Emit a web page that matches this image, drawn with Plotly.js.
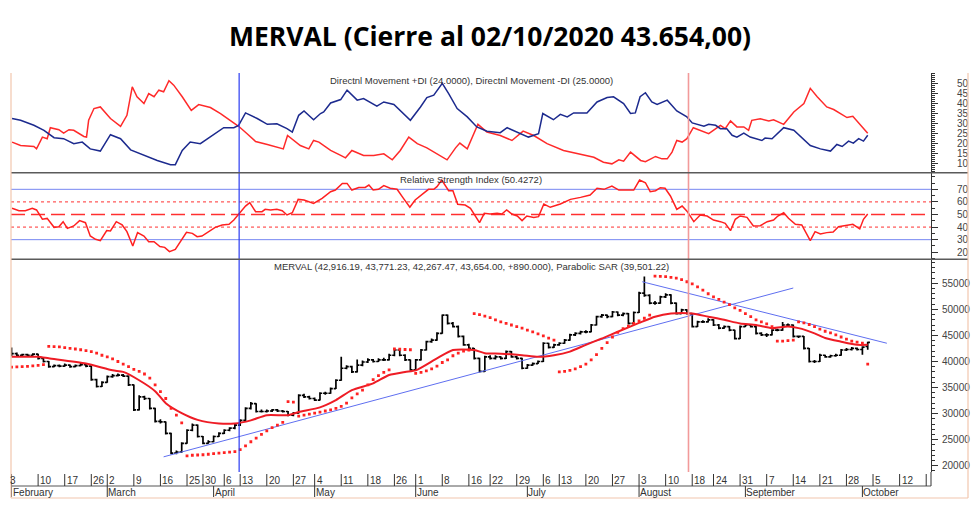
<!DOCTYPE html>
<html><head><meta charset="utf-8">
<script src="https://cdn.plot.ly/plotly-3.0.1.min.js"></script>
<style>html,body{margin:0;padding:0;background:#fff}#chart{width:980px;height:507px}</style>
</head><body><div id="chart"></div>
<script>
// ---------- DATA (trading-day index 0 = 3 Feb 2020 ... 161 = 2 Oct 2020) ----------
const barOpen = [41200,41500,41200,41300,41200,41400,40600,40000,39000,39200,39100,39300,39000,39200,39400,39100,36500,35200,36000,37100,
37300,37400,37200,35500,30700,33200,32900,31000,28500,28400,26200,22400,22600,24300,26800,27800,25600,24300,24600,25600,
26200,26800,27200,27800,28700,31000,31900,30400,30400,30500,30700,30500,30400,29700,30100,33500,33200,32900,32600,33900,
33900,34800,36400,38700,39000,38000,39300,39900,40300,40000,40300,40300,41200,42200,41200,40300,38400,40300,42200,43800,
44100,45400,48900,47300,46700,44800,43200,42500,40600,38100,40900,40600,40900,40600,41900,40900,40600,38700,39300,39600,
40000,43500,42700,43200,43500,44100,45100,45400,45700,45700,47000,48600,48900,48600,49500,48900,49200,47300,49400,53100,
52700,51200,51200,52400,52800,51200,49200,49900,49200,46700,47600,47600,48000,47000,46400,46700,46000,44400,46700,47000,
46700,45400,45100,45100,46000,46000,47000,47000,44800,44800,42500,40000,40000,41200,40900,41100,41200,42200,42300,42500,
42300,42916.19];
const barHigh = [42700,41700,41500,41500,41600,41500,40800,40100,39400,39400,39600,39400,39400,39700,39500,39200,36700,36200,37300,37600,
37700,37600,37300,35600,33500,33400,33000,31100,28900,28500,26300,22900,24500,27000,28100,27900,25700,24900,25800,26400,
27000,27400,28000,28900,31200,32200,32000,30800,30800,30900,30900,30700,30500,30300,33700,33800,33400,33100,34100,34200,
35000,36600,40900,39300,39200,40400,40200,40600,40500,40600,40700,41500,42500,42300,41400,40400,40500,42400,44000,44400,
45600,49000,49000,47600,46900,45000,43400,42600,40700,41100,41200,41200,41000,42100,42000,41100,40700,39500,39800,40200,
43700,43600,43400,43700,44300,45300,45600,45900,46000,47200,48800,49100,49000,49700,49600,49400,49300,49600,53400,56300,
52900,51600,52600,53100,52900,51300,50100,50000,49300,47800,47900,48300,48100,47200,46900,46800,46100,46900,47300,47100,
46800,45600,45400,46200,46300,47600,47300,47100,45000,44900,42600,40300,41500,41300,41300,41500,42400,42600,42800,42700,
42900,43771.23];
const barLow = [41000,41000,41000,41000,41100,40400,39800,38800,38900,38900,39000,38800,38900,39100,38900,36300,35000,35100,35900,36900,
37100,37000,35300,30500,30600,32600,30800,28300,28100,26000,22200,22200,22500,24200,26600,25400,24100,24200,24500,25500,
26100,26600,27000,27600,28600,30800,30200,30200,30200,30300,30300,30200,29500,29500,30000,33000,32700,32400,32500,33600,
33800,34700,36300,38500,37800,37900,39100,39700,39800,39900,40100,40200,41000,41000,40100,38200,38300,40200,42100,43600,
44000,45300,47100,46500,44600,43000,42300,40400,37900,38000,40400,40400,40400,40500,40700,40400,38500,38600,39200,39500,
39900,42500,42600,43000,43400,44000,44900,45200,45400,45600,46900,48400,48300,48500,48700,48700,47100,47200,49300,52400,
51000,50900,51100,52200,51000,49000,49100,49000,46500,46600,47400,47500,46800,46200,46300,45800,44200,44300,46600,46500,
45200,44900,44700,45000,45800,45900,46700,44600,44500,42300,39800,39700,39900,40700,40700,40900,41100,42000,42100,42100,
41300,42267.47];
const barClose = [41500,41200,41300,41200,41400,40600,40000,39000,39200,39100,39300,39000,39200,39400,39100,36500,35200,36000,37100,37300,
37400,37200,35500,30700,33200,32900,31000,28500,28400,26200,22400,22600,24300,26800,27800,25600,24300,24600,25600,26200,
26800,27200,27800,28700,31000,31900,30400,30400,30500,30700,30500,30400,29700,30100,33500,33200,32900,32600,33900,33900,
34800,36400,38700,39000,38000,39300,39900,40300,40000,40300,40300,41200,42200,41200,40300,38400,40300,42200,43800,44100,
45400,48900,47300,46700,44800,43200,42500,40600,38100,40900,40600,40900,40600,41900,40900,40600,38700,39300,39600,40000,
43500,42700,43200,43500,44100,45100,45400,45700,45700,47000,48600,48900,48600,49500,48900,49200,47300,49400,53100,52700,
51200,51200,52400,52800,51200,49200,49900,49200,46700,47600,47600,48000,47000,46400,46700,46000,44400,46700,47000,46700,
45400,45100,45100,46000,46000,47000,47000,44800,44800,42500,40000,40000,41200,40900,41100,41200,42200,42300,42500,42300,
42764,43654];
const parabolicSar = [38900,38950,39000,39050,39150,39250,39400,42900,42850,42800,42650,42500,42400,42250,42100,41900,41600,41200,40900,40500,
40000,39500,39000,38500,38100,37600,36800,35500,34200,32900,31000,29700,28200,21900,22000,22050,22100,22200,22300,22400,
22500,22600,22700,23100,23800,24600,25300,26000,26700,27300,27800,28300,32300,32200,29500,29700,29900,30100,30300,30500,
30700,31000,31400,32000,33000,33800,34500,35500,36500,37300,37900,38400,42400,42350,42300,42250,37700,37900,38200,38600,
39100,39800,40300,41100,41600,42000,42200,49200,49000,48700,48400,48000,47600,47300,47000,46700,46400,46000,45700,45300,
44900,44500,44100,38000,38100,38300,38600,39000,39500,40300,41300,42500,43600,44700,45600,46300,46800,47300,47800,48300,
48900,56400,56350,56300,56150,56000,55700,55300,54900,54300,53700,53000,52400,51900,51400,50900,50300,49800,49200,48600,
48000,47600,47200,46700,43900,43900,44000,44100,47600,47400,47100,46700,46200,45800,45500,45100,44700,44300,43900,43700,
43500,39501.22];
const maDay = [0,5,7,14,19,21,24,27,29,32,35,39,42,45,48,52,54,58,61,64,68,71,74,76,80,83,87,89,92,96,99,102,105,108,111,114,118,121,124,128,131,134,137,140,143,146,148,151,153,156,159,161];
const maValue = [40900,40900,40600,39600,38300,38000,36400,34300,32000,30100,28800,28100,28100,28700,29700,29700,30300,31200,32600,34500,35800,37400,38000,38300,40600,42200,42200,41600,41500,41200,40900,41200,41900,43200,44400,45700,47400,48600,49200,49200,48600,48000,47300,47000,46400,46700,46400,45400,44500,43800,43200,43200];

const diPlusDay = [0.1,1.7,4.2,6.1,8.0,9.8,11.7,13.3,14.8,16.7,18.6,20.5,22.4,24.9,27.4,29.9,30.8,32.1,33.6,35.5,37.4,39.9,41.8,42.7,44.0,46.2,48.1,49.9,51.8,52.8,54.0,55.0,56.8,58.1,58.7,60.0,61.9,63.1,65.0,66.2,68.7,70.0,71.9,75.0,76.9,78.1,79.4,81.0,82.2,83.8,85.7,87.5,89.4,91.9,93.2,94.4,95.7,97.2,99.1,99.9,101.9,103.2,104.5,105.7,108.2,110.1,112.0,113.2,115.1,116.4,117.3,118.2,119.2,120.4,121.4,123.3,125.1,127.0,128.0,130.2,131.1,132.4,133.3,134.5,135.5,136.4,137.7,138.9,141.1,141.7,143.0,145.2,147.1,150.2,152.1,154.0,155.2,156.2,157.4,158.3,159.3,160.2,161.0];
const diPlusValue = [32.4,31.5,29.0,26.5,22.8,22.3,19.8,20.6,17.2,16.1,24.3,22.3,16.7,13.9,11.4,9.3,9.3,16.4,20.6,19.8,23.1,27.8,27.8,29.0,35.2,32.4,29.5,29.8,27.3,25.6,34.0,36.2,31.8,34.9,35.7,40.2,41.9,46.6,41.6,42.4,38.6,40.7,39.4,31.5,38.2,42.9,44.1,50.0,44.9,37.4,33.2,28.2,26.0,25.3,27.8,26.5,25.1,23.1,24.8,34.9,31.8,34.5,33.2,35.2,35.2,40.7,42.9,43.3,39.9,34.9,35.2,43.3,45.3,40.7,39.4,41.6,36.2,33.2,30.2,28.5,29.5,29.0,27.3,27.3,24.0,23.1,25.1,23.1,21.4,22.6,22.3,27.8,26.5,18.9,17.2,16.1,19.4,18.4,21.1,20.1,22.3,21.1,24.0];
const diMinusDay = [0.1,1.7,4.2,4.7,5.8,6.7,7.3,8.9,9.8,10.8,11.7,13.6,14.1,14.5,15.5,16.7,18.6,20.5,21.7,22.7,23.6,24.9,25.8,26.8,27.7,28.6,29.6,30.5,32.1,33.8,35.2,37.4,39.3,41.2,42.7,44.3,45.9,48.1,50.6,51.1,51.9,53.1,54.3,55.9,56.8,57.8,60.0,61.9,62.8,64.0,66.2,68.1,70.0,71.6,73.1,74.7,76.3,78.1,80.0,81.9,83.5,84.3,85.7,87.7,89.4,91.9,94.1,96.2,98.2,100.7,103.8,107.0,109.5,111.3,112.9,114.2,115.1,116.4,117.6,118.3,119.2,120.1,121.1,122.3,123.3,124.2,125.1,126.1,127.0,128.2,129.5,131.1,133.3,134.2,135.2,136.4,137.7,138.6,139.2,140.8,142.4,143.3,145.2,147.1,149.0,150.2,151.5,153.3,154.6,157.1,158.2,159.6,161.0];
const diMinusValue = [20.6,18.9,18.4,17.2,23.1,22.3,27.8,26.8,25.1,26.8,26.5,23.4,23.1,31.5,37.4,38.2,32.4,28.5,34.0,48.3,43.3,39.9,44.9,43.3,46.6,45.8,51.3,49.1,43.3,36.5,39.4,37.9,34.9,31.5,28.5,24.8,20.9,19.4,17.7,17.2,23.9,21.4,18.9,17.2,21.4,20.6,16.4,13.9,12.7,16.4,13.9,13.9,14.7,11.7,16.4,23.1,19.8,17.7,14.7,11.7,17.7,20.1,17.2,29.5,25.6,23.9,21.4,26.1,23.9,19.8,16.4,14.4,13.0,10.5,9.7,11.7,11.0,15.6,13.0,11.4,10.8,12.2,13.4,12.2,12.2,15.6,21.4,20.6,22.3,27.8,26.5,24.8,29.0,27.3,31.2,28.2,28.2,26.5,31.5,32.3,31.2,31.8,29.5,35.7,39.9,47.5,43.3,38.2,36.9,32.9,33.5,29.0,25.0];
const rsiDay = [0.1,1.4,2.6,3.9,4.7,5.8,6.7,8.0,8.9,9.7,10.5,11.7,12.8,13.9,14.8,15.8,16.7,17.9,18.6,19.7,20.8,21.7,22.8,23.7,24.9,25.8,26.8,27.9,28.8,29.7,30.8,31.8,32.9,34.0,34.9,35.8,37.1,38.3,39.6,40.9,41.8,42.7,44.0,44.8,45.9,47.1,47.7,48.7,49.9,50.9,51.8,52.8,53.9,55.0,56.8,58.4,60.0,60.9,62.2,63.1,64.0,65.3,66.5,67.2,68.0,69.0,70.0,71.2,72.5,73.7,74.9,75.9,77.5,78.4,79.4,80.0,80.9,82.2,83.0,83.9,85.3,86.3,88.0,88.9,90.0,91.3,92.2,93.1,94.1,95.1,96.0,96.9,98.2,99.1,100.1,101.3,103.2,105.1,107.0,108.8,110.1,111.4,112.9,114.2,115.7,117.0,118.1,119.2,120.1,121.1,122.0,122.9,123.9,125.1,126.1,127.1,128.3,129.5,130.8,132.0,133.3,134.2,135.2,136.1,137.0,138.3,139.5,140.8,142.1,143.3,144.1,145.2,146.1,147.4,148.6,150.2,151.1,152.1,153.3,154.5,155.5,156.8,158.2,159.5,160.2,161.0];
const rsiValue = [54.9,53.0,53.0,54.9,53.6,46.2,46.9,39.8,40.3,44.3,39.0,40.9,45.1,43.5,32.9,30.3,29.2,37.2,36.9,44.3,41.7,36.4,25.0,35.6,32.9,28.4,28.4,24.5,23.9,20.5,22.3,28.4,35.8,35.0,32.4,32.9,36.4,39.8,41.7,42.2,45.6,50.1,56.7,59.4,52.2,52.2,54.1,53.6,54.1,53.0,49.6,51.4,62.0,61.5,58.8,62.8,68.1,69.4,74.7,74.7,69.4,71.5,71.5,73.4,69.4,70.0,72.9,70.8,70.0,62.8,55.7,61.5,67.3,70.0,70.0,72.1,77.4,68.9,68.9,58.1,57.5,54.9,43.5,50.9,50.4,50.9,50.4,53.6,50.4,48.8,45.1,48.8,47.7,48.3,58.3,55.7,58.3,62.0,63.6,65.5,70.8,70.0,72.6,69.4,69.4,69.4,77.4,75.2,68.1,68.9,71.3,70.8,64.7,54.1,56.7,52.2,44.3,49.6,48.8,45.6,44.3,43.0,37.2,46.2,48.8,47.7,40.9,41.1,44.3,45.6,48.8,51.4,47.0,42.2,41.7,29.2,36.4,34.5,35.6,36.1,40.3,41.1,42.2,38.5,46.2,50.4];

const rsiBands = [70, 30];
const rsiDotted = [60, 40];
const rsiMid = [50];
const upTrendDay = [28.6, 147.0], upTrendValue = [21700, 54100];
const downTrendDay = [118.6, 164.6], downTrendValue = [55300, 43500];
const markerDays = [42.8, 127.3];
const markerColors = ['#2a3cf2', '#f29a9a'];

const dayTickDay = [0,5,10,15,18,23,28,33,36,40,43,48,53,57,62,67,72,76,81,86,90,95,100,103,108,113,118,123,128,132,137,142,147,152,157,162,167,172];
const dayTickText = ['3','10','17','26','2','9','16','25','30','6','13','20','27','4','11','18','26','1','8','16','22','29','6','13','20','27','3','10','18','24','31','7','14','21','28','5','12',''];
const monthDay = [0,18,38,57,76,97,118,138,160];
const monthText = ['February','March','April','May','June','July','August','September','October'];
const diTicks = [10,15,20,25,30,35,40,45,50];
const rsiTicks = [20,30,40,50,60,70];
const priceTicks = [20000,25000,30000,35000,40000,45000,50000,55000];

const titleText = 'MERVAL (Cierre al 02/10/2020 43.654,00)';
const diLabel = 'Directnl Movement +DI (24.0000), Directnl Movement -DI (25.0000)';
const rsiLabel = 'Relative Strength Index (50.4272)';
const priceLabel = 'MERVAL (42,916.19, 43,771.23, 42,267.47, 43,654.00, +890.000), Parabolic SAR (39,501.22)';

// ---------- CHART ----------
const dayIndex = barClose.map((_, i) => i);
const FONT = 'Liberation Sans, Arial, sans-serif';
const traces = [
  {type:'scatter', mode:'lines', x:upTrendDay, y:upTrendValue, xaxis:'x', yaxis:'y', line:{color:'#5f6ff0', width:1}, hoverinfo:'skip'},
  {type:'scatter', mode:'lines', x:downTrendDay, y:downTrendValue, xaxis:'x', yaxis:'y', line:{color:'#5f6ff0', width:1}, hoverinfo:'skip'},
  {type:'ohlc', x:dayIndex, open:barOpen, high:barHigh, low:barLow, close:barClose, xaxis:'x', yaxis:'y',
    increasing:{line:{color:'#000', width:1.7}}, decreasing:{line:{color:'#000', width:1.7}}, tickwidth:0.42, hoverinfo:'skip'},
  {type:'scatter', mode:'lines', x:maDay, y:maValue, xaxis:'x', yaxis:'y', line:{color:'#ee1c25', width:2, shape:'spline', smoothing:0.6}, hoverinfo:'skip'},
  {type:'scatter', mode:'markers', x:dayIndex, y:parabolicSar, xaxis:'x', yaxis:'y', marker:{symbol:'square', size:2.8, color:'#ff2222'}, hoverinfo:'skip'},
  {type:'scatter', mode:'lines', x:rsiDay, y:rsiValue, xaxis:'x', yaxis:'y2', line:{color:'#ff2020', width:1.5}, hoverinfo:'skip'},
  {type:'scatter', mode:'lines', x:diMinusDay, y:diMinusValue, xaxis:'x', yaxis:'y3', line:{color:'#ff2a2a', width:1.5}, hoverinfo:'skip'},
  {type:'scatter', mode:'lines', x:diPlusDay, y:diPlusValue, xaxis:'x', yaxis:'y3', line:{color:'#1c2a8e', width:1.5}, hoverinfo:'skip'}
];

const PLOT_H = 399; // 73 .. 472 px
const py = px => (472 - px) / PLOT_H;       // page y -> paper y
const pxX = px => (px - 11) / 920;          // page x -> paper x
const shapes = [];
rsiBands.forEach(v => shapes.push({type:'line', xref:'paper', x0:0, x1:1, yref:'y2', y0:v, y1:v, line:{color:'#7686f2', width:1}, layer:'below'}));
rsiDotted.forEach(v => shapes.push({type:'line', xref:'paper', x0:0, x1:1, yref:'y2', y0:v, y1:v, line:{color:'#ff3030', width:1, dash:'dot'}, layer:'below'}));
rsiMid.forEach(v => shapes.push({type:'line', xref:'paper', x0:0, x1:1, yref:'y2', y0:v, y1:v, line:{color:'#ff3030', width:1.3, dash:'14px,6px'}, layer:'below'}));
markerDays.forEach((d, i) => shapes.push({type:'line', xref:'x', x0:d, x1:d, yref:'paper', y0:0, y1:1, line:{color:markerColors[i], width:i ? 1.6 : 1.2}}));
// panel separators
[259.3, 172.7].forEach(p => shapes.push({type:'line', xref:'paper', x0:0, x1:pxX(968), yref:'paper', y0:py(p), y1:py(p), line:{color:'#5a5a5a', width:1.5}}));
// date strip
shapes.push({type:'line', xref:'paper', x0:0, x1:1, yref:'paper', y0:py(486), y1:py(486), line:{color:'#555', width:1}});
shapes.push({type:'line', xref:'paper', x0:1, x1:1, yref:'paper', y0:0, y1:py(486), line:{color:'#333', width:1}});
dayTickDay.forEach(d => shapes.push({type:'line', xref:'x', x0:d, x1:d, yref:'paper', y0:py(474), y1:py(486), line:{color:'#333', width:1}}));
monthDay.forEach(d => shapes.push({type:'line', xref:'x', x0:d, x1:d, yref:'paper', y0:py(486), y1:py(497), line:{color:'#333', width:1}}));
// outer frame
const frame = '#f2c6ae';
shapes.push({type:'line', xref:'paper', x0:0, x1:0, yref:'paper', y0:1, y1:py(498), line:{color:frame, width:1.2}});
shapes.push({type:'line', xref:'paper', x0:pxX(968), x1:pxX(968), yref:'paper', y0:1, y1:py(498), line:{color:frame, width:1.2}});
shapes.push({type:'line', xref:'paper', x0:0, x1:pxX(968), yref:'paper', y0:py(498), y1:py(498), line:{color:frame, width:1.2}});

const annotations = [];
const lf = {family:FONT, size:10, color:'#333'};
dayTickDay.forEach((d, i) => { if (dayTickText[i]) annotations.push({x:d, xref:'x', y:py(480), yref:'paper', text:dayTickText[i], showarrow:false, xanchor:'left', yanchor:'middle', font:lf, borderpad:0, xshift:i === 0 ? -3 : 1}); });
monthDay.forEach((d, i) => annotations.push({x:d, xref:'x', y:py(492), yref:'paper', text:monthText[i], showarrow:false, xanchor:'left', yanchor:'middle', font:lf, borderpad:0, xshift:0}));
const tf = {family:FONT, size:9.5, color:'#333'};
annotations.push({x:0.5, xref:'paper', y:py(80.7), yref:'paper', text:diLabel, showarrow:false, xanchor:'center', yanchor:'middle', font:tf});
annotations.push({x:0.5, xref:'paper', y:py(179.3), yref:'paper', text:rsiLabel, showarrow:false, xanchor:'center', yanchor:'middle', font:tf});
annotations.push({x:0.5, xref:'paper', y:py(266.7), yref:'paper', text:priceLabel, showarrow:false, xanchor:'center', yanchor:'middle', font:tf});

const axisBase = {side:'right', anchor:'x', showline:true, linecolor:'#333', linewidth:1, ticks:'outside', tickcolor:'#333',
  showgrid:false, zeroline:false, tickmode:'array', tickfont:{family:FONT, size:10, color:'#444'}, fixedrange:true};

const layout = {
  width:980, height:507, margin:{l:11, r:49, t:73, b:35, pad:0},
  paper_bgcolor:'#fff', plot_bgcolor:'#fff', showlegend:false,
  title:{text:'<b>'+titleText+'</b>', x:0.5, xref:'container', xanchor:'center', y:1-37/507, yref:'container', yanchor:'middle',
    font:{family:'Open Sans, sans-serif', size:26.5, color:'#000'}},
  xaxis:{range:[-0.1, 172.9], showgrid:false, zeroline:false, showticklabels:false, ticks:'', showline:false, anchor:'y',
    rangeslider:{visible:false}, fixedrange:true},
  yaxis:Object.assign({}, axisBase, {domain:[0, py(259.3)], range:[18790, 59610], tickvals:priceTicks, ticktext:priceTicks.map(String),
    ticklen:6, ticklabelstandoff:2, minor:{tickmode:'linear', tick0:0, dtick:1000, ticks:'outside', ticklen:3, tickcolor:'#333'}}),
  yaxis2:Object.assign({}, axisBase, {domain:[py(259.3), py(172.7)], range:[14.4, 83.2], tickvals:rsiTicks, ticktext:rsiTicks.map(String),
    ticklen:6, ticklabelstandoff:17, minor:{tickmode:'linear', tick0:0, dtick:5, ticks:'outside', ticklen:3, tickcolor:'#333'}}),
  yaxis3:Object.assign({}, axisBase, {domain:[py(172.7), 1], range:[5.26, 55.2], tickvals:diTicks, ticktext:diTicks.map(String),
    ticklen:6, ticklabelstandoff:17, minor:{tickmode:'linear', tick0:0, dtick:1, ticks:'outside', ticklen:3, tickcolor:'#333'}}),
  shapes:shapes, annotations:annotations
};
Plotly.newPlot('chart', traces, layout, {displayModeBar:false, staticPlot:true});
</script></body></html>
